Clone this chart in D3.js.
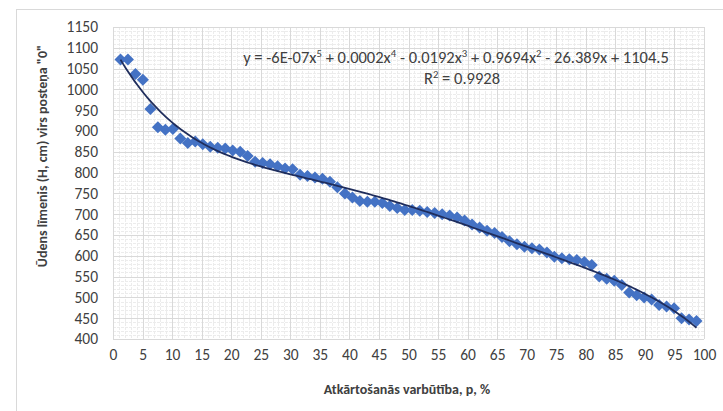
<!DOCTYPE html>
<html>
<head>
<meta charset="utf-8">
<script src="https://cdn.jsdelivr.net/npm/d3@7/dist/d3.min.js"></script>
<style>
  html, body { margin: 0; padding: 0; background: #fff; }
  svg { display: block; }
  text { font-family: Calibri, Carlito, Lato, "Liberation Sans", sans-serif; fill: #404040; }
</style>
</head>
<body>
<svg id="chart" width="723" height="411"></svg>
<script>
// ---- data ----
const probability = [1.27,2.53,3.80,5.06,6.33,7.59,8.86,10.13,11.39,12.66,13.92,15.19,16.46,17.72,18.99,20.25,21.52,22.78,24.05,25.32,26.58,27.85,29.11,30.38,31.65,32.91,34.18,35.44,36.71,37.97,39.24,40.51,41.77,43.04,44.30,45.57,46.84,48.10,49.37,50.63,51.90,53.16,54.43,55.70,56.96,58.23,59.49,60.76,62.03,63.29,64.56,65.82,67.09,68.35,69.62,70.89,72.15,73.42,74.68,75.95,77.22,78.48,79.75,81.01,82.28,83.54,84.81,86.08,87.34,88.61,89.87,91.14,92.41,93.67,94.94,96.20,97.47,98.73];
const waterLevel = [1072,1072,1037,1023,953,909,903,905,882,871,875,868,862,860,858,853,850,840,826,823,820,815,810,808,795,792,788,785,778,765,750,740,732,730,730,727,720,715,710,710,708,705,703,700,697,692,685,675,668,660,655,645,635,628,622,618,615,608,598,594,592,590,585,578,550,545,540,530,512,505,500,495,482,478,474,450,447,443];
const xTicks = [0,5,10,15,20,25,30,35,40,45,50,55,60,65,70,75,80,85,90,95,100];
const yTicks = [400,450,500,550,600,650,700,750,800,850,900,950,1000,1050,1100,1150];
const xTitle = "Atkārtošanās varbūtība, p, %";
const yTitle = "Ūdens līmenis (H, cm) virs posteņa \"0\"";
const eqParts = [["y = -6E-07x",""],["5","sup"],[" + 0.0002x",""],["4","sup"],[" - 0.0192x",""],["3","sup"],[" + 0.9694x",""],["2","sup"],[" - 26.389x + 1104.5",""]];
const r2Parts = [["R",""],["2","sup"],[" = 0.9928",""]];

// ---- layout ----
const svg = d3.select("#chart");
const L = 113, R = 704, T = 27, B = 339;
const x = d3.scaleLinear().domain([0,100]).range([L,R]);
const y = d3.scaleLinear().domain([400,1150]).range([B,T]);
const FONT = "Calibri, Carlito, Lato, sans-serif";

// outer chart border
svg.append("rect").attr("x",16.5).attr("y",9.5).attr("width",720).attr("height",420)
  .attr("fill","none").attr("stroke","#d9d9d9");

// minor grid
const g = svg.append("g");
g.selectAll(".mx").data(d3.range(0,101,1).filter(d=>d%5)).enter().append("line")
  .attr("x1",d=>Math.round(x(d))+0.5).attr("x2",d=>Math.round(x(d))+0.5).attr("y1",T).attr("y2",B)
  .attr("stroke","#ececec").attr("stroke-dasharray","3,1");
g.selectAll(".my").data(d3.range(400,1151,10).filter(d=>d%50)).enter().append("line")
  .attr("y1",d=>Math.round(y(d))+0.5).attr("y2",d=>Math.round(y(d))+0.5).attr("x1",L).attr("x2",R)
  .attr("stroke","#ececec").attr("stroke-dasharray","3,1");
// major grid
g.selectAll(".Mx").data(xTicks).enter().append("line")
  .attr("x1",d=>Math.round(x(d))+0.5).attr("x2",d=>Math.round(x(d))+0.5).attr("y1",T).attr("y2",B)
  .attr("stroke","#d9d9d9");
g.selectAll(".My").data(yTicks).enter().append("line")
  .attr("y1",d=>Math.round(y(d))+0.5).attr("y2",d=>Math.round(y(d))+0.5).attr("x1",L).attr("x2",R)
  .attr("stroke","#d9d9d9");

// axes (labels only)
const xAxis = svg.append("g").attr("transform",`translate(0,${B})`)
  .call(d3.axisBottom(x).tickValues(xTicks).tickFormat(d3.format("d")).tickSize(0).tickPadding(10));
const yAxis = svg.append("g").attr("transform",`translate(${L},0)`)
  .call(d3.axisLeft(y).tickValues(yTicks).tickFormat(d3.format("d")).tickSize(0).tickPadding(15));
[xAxis,yAxis].forEach(a=>{ a.select(".domain").remove();
  a.selectAll("text").attr("font-size",15.5).attr("fill","#404040").style("font-family",FONT); });

// markers
const data = probability.map((p,i)=>({p, v: waterLevel[i]}));
const diamond = d3.symbol().type(d3.symbolSquare).size(72);
svg.append("g").selectAll("path").data(data).enter().append("path")
  .attr("d",diamond)
  .attr("transform",d=>`translate(${x(d.p)},${y(d.v)}) rotate(45)`)
  .attr("fill","#4472c4");

// polynomial (order 5) trendline, least squares fit of the data
function polyfit(xs, ys, deg){
  const n = deg+1, A = Array.from({length:n},()=>Array(n+1).fill(0));
  xs.forEach((xv,k)=>{
    const pw = d3.range(2*n).map(j=>Math.pow(xv,j));
    for(let i=0;i<n;i++){ for(let j=0;j<n;j++) A[i][j]+=pw[i+j]; A[i][n]+=pw[i]*ys[k]; }
  });
  for(let i=0;i<n;i++){
    let mx=i; for(let r=i+1;r<n;r++) if(Math.abs(A[r][i])>Math.abs(A[mx][i])) mx=r;
    [A[i],A[mx]]=[A[mx],A[i]];
    for(let r=0;r<n;r++){ if(r===i) continue; const f=A[r][i]/A[i][i]; for(let c=i;c<=n;c++) A[r][c]-=f*A[i][c]; }
  }
  return A.map((row,i)=>row[n]/row[i]);
}
const coef = polyfit(probability.map(p=>p/100), waterLevel, 5);
const evalP = t => coef.reduce((s,c,i)=>s+c*Math.pow(t,i),0);
const p0 = probability[0], p1 = probability[probability.length-1];
const trend = d3.range(0,201).map(i=>{ const p = p0+(p1-p0)*i/200; return [p, evalP(p/100)]; });
svg.append("path").datum(trend)
  .attr("d", d3.line().x(d=>x(d[0])).y(d=>y(d[1])))
  .attr("fill","none").attr("stroke","#1f2d5c").attr("stroke-width",1.8);

// equation labels
function richText(parts, cx, cy, size){
  const t = svg.append("text").attr("x",cx).attr("y",cy).attr("text-anchor","middle")
    .attr("font-size",size).attr("fill","#404040");
  let up = false;
  parts.forEach(([s,kind])=>{
    const ts = t.append("tspan").text(s);
    if(kind==="sup"){ ts.attr("font-size",size*0.65).attr("dy",-size*0.38); up=true; }
    else if(up){ ts.attr("dy",size*0.38); up=false; }
  });
  return t;
}
richText(eqParts, 456, 63, 16.5);
richText(r2Parts, 462, 84, 16.5);

// axis titles
svg.append("text").attr("x",407).attr("y",394).attr("text-anchor","middle")
  .attr("font-size",14).attr("font-weight","bold").attr("fill","#404040").text(xTitle);
svg.append("text").attr("transform","translate(47,156) rotate(-90)").attr("text-anchor","middle")
  .attr("font-size",14).attr("font-weight","bold").attr("fill","#404040").text(yTitle);
</script>
</body>
</html>
